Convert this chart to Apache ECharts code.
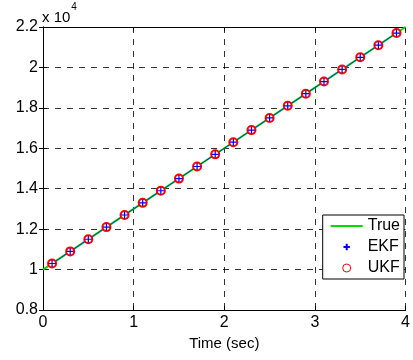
<!DOCTYPE html>
<html>
<head>
<meta charset="utf-8">
<script src="https://cdn.jsdelivr.net/npm/echarts@6/dist/echarts.min.js"></script>
<style>html,body{margin:0;padding:0;background:#fff}#c{width:413px;height:360px}</style>
</head>
<body>
<div id="c"></div>
<script>
var trueX = [0, 1, 2, 3, 4];
var trueY = [10000, 13000, 16000, 19000, 22000];
var estX = [0.1, 0.3, 0.5, 0.7, 0.9, 1.1, 1.3, 1.5, 1.7, 1.9, 2.1, 2.3, 2.5, 2.7, 2.9, 3.1, 3.3, 3.5, 3.7, 3.9];
var ekfY = [10300, 10900, 11500, 12100, 12700, 13300, 13900, 14500, 15100, 15700, 16300, 16900, 17500, 18100, 18700, 19300, 19900, 20500, 21100, 21700];
var ukfY = [10300, 10900, 11500, 12100, 12700, 13300, 13900, 14500, 15100, 15700, 16300, 16900, 17500, 18100, 18700, 19300, 19900, 20500, 21100, 21700];
var xTicks = [0, 1, 2, 3, 4];
var yTicks = [0.8, 1, 1.2, 1.4, 1.6, 1.8, 2, 2.2];

function pairs(xs, ys) { return xs.map(function (x, i) { return [x, ys[i]]; }); }

var font = 'Liberation Sans, Arial, Helvetica, sans-serif';
var plus = 'path://M5,0L5,10M0,5L10,5';
var chart = echarts.init(document.getElementById('c'), null, {renderer: 'canvas'});
chart.setOption({
  animation: false,
  backgroundColor: '#fff',
  textStyle: {fontFamily: font},
  title: {
    text: '{n|x 10}{s|4}', left: 40, top: 0, padding: [2, 2, 2, 2],
    textStyle: {
      fontFamily: font, fontSize: 15, fontWeight: 'normal', color: '#000',
      rich: {
        n: {fontFamily: font, fontSize: 15, color: '#000', padding: [8, 0, 0, 0]},
        s: {fontFamily: font, fontSize: 10, color: '#000', verticalAlign: 'top', padding: [0, 0, 0, 1]}
      }
    }
  },
  grid: {left: 43, right: 7, top: 27, bottom: 50, show: false},
  legend: {
    right: 9, top: 215, orient: 'vertical',
    backgroundColor: '#fff', borderColor: '#000', borderWidth: 1, borderRadius: 0,
    padding: [3, 4, 3, 7], itemGap: 5, itemWidth: 32, itemHeight: 8,
    textStyle: {fontFamily: font, fontSize: 16, color: '#000'},
    data: [
      {name: 'True', itemStyle: {opacity: 0}},
      {name: 'EKF'},
      {name: 'UKF', icon: 'circle', itemStyle: {color: 'none', borderColor: '#ff0000', borderWidth: 1}}
    ]
  },
  xAxis: [{
    type: 'value', min: 0, max: 4, interval: 1,
    name: 'Time (sec)', nameLocation: 'middle', nameGap: 20,
    nameTextStyle: {fontFamily: font, fontSize: 15, color: '#000'},
    axisLine: {show: true, lineStyle: {color: '#000', width: 1}},
    axisTick: {show: true, inside: true, length: 4, lineStyle: {color: '#000'}},
    axisLabel: {fontFamily: font, fontSize: 16, color: '#000', margin: 5,
      formatter: function (v) { return xTicks.indexOf(v) >= 0 ? String(v) : ''; }},
    splitLine: {show: true, lineStyle: {color: '#000', type: [6, 6], width: 1, opacity: 0.8}}
  }, {
    type: 'value', min: 0, max: 4, interval: 1, position: 'top',
    axisLine: {show: true, lineStyle: {color: '#000', width: 1}},
    axisTick: {show: true, inside: true, length: 4, lineStyle: {color: '#000'}},
    axisLabel: {show: false}, splitLine: {show: false}
  }],
  yAxis: [{
    type: 'value', min: 8000, max: 22000, interval: 2000,
    axisLine: {show: true, lineStyle: {color: '#000', width: 1}},
    axisTick: {show: true, inside: true, length: 4, lineStyle: {color: '#000'}},
    axisLabel: {fontFamily: font, fontSize: 16, color: '#000', margin: 5,
      formatter: function (v) { var t = Number((v / 10000).toFixed(1)); return yTicks.indexOf(t) >= 0 ? String(t) : ''; }},
    splitLine: {show: true, lineStyle: {color: '#000', type: [6, 6], width: 1, opacity: 0.8}}
  }, {
    type: 'value', min: 8000, max: 22000, interval: 2000, position: 'right',
    axisLine: {show: true, lineStyle: {color: '#000', width: 1}},
    axisTick: {show: true, inside: true, length: 4, lineStyle: {color: '#000'}},
    axisLabel: {show: false}, splitLine: {show: false}
  }],
  series: [{
    name: 'True', type: 'line', data: pairs(trueX, trueY), symbol: 'none',
    lineStyle: {color: '#00dd00', width: 2}, itemStyle: {color: '#00dd00'}, z: 3
  }, {
    name: 'ekfLine', type: 'line', data: pairs(estX, ekfY), symbol: 'none',
    lineStyle: {color: '#0000ff', width: 1, opacity: 0.7}, z: 4
  }, {
    name: 'EKF', type: 'line', data: pairs(estX, ekfY), symbol: plus, symbolSize: 7,
    lineStyle: {opacity: 0, width: 0},
    itemStyle: {color: 'none', borderColor: '#0000ff', borderWidth: 1.2}, z: 6
  }, {
    name: 'UKF', type: 'line', data: pairs(estX, ukfY), symbol: 'emptyCircle', symbolSize: 8,
    lineStyle: {opacity: 0, width: 0},
    itemStyle: {color: '#ff0000', borderColor: '#ff0000', borderWidth: 1}, z: 5
  }]
});
</script>
</body>
</html>
